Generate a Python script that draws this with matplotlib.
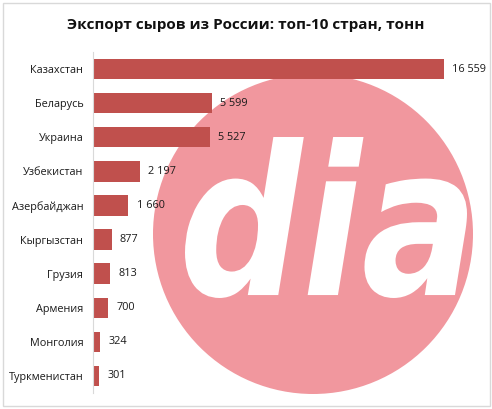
import matplotlib.pyplot as plt
import numpy as np
from matplotlib.patches import Circle, Rectangle, PathPatch
from matplotlib.textpath import TextPath
from matplotlib.font_manager import FontProperties
from matplotlib.transforms import Affine2D

plt.rcParams['font.family'] = ['Open Sans', 'DejaVu Sans']

# Data
countries = ['Казахстан', 'Беларусь', 'Украина', 'Узбекистан', 'Азербайджан',
             'Кыргызстан', 'Грузия', 'Армения', 'Монголия', 'Туркменистан']
tonnes = [16559, 5599, 5527, 2197, 1660, 877, 813, 700, 324, 301]
title = 'Экспорт сыров из России: топ-10 стран, тонн'

W, H = 492, 409
fig = plt.figure(figsize=(W / 100, H / 100), dpi=100)

# background: border + watermark logo (pixel coords)
bg = fig.add_axes([0, 0, 1, 1])
bg.set_xlim(0, W)
bg.set_ylim(H, 0)
bg.axis('off')
bg.add_patch(Rectangle((2.5, 2.5), 487, 403, fill=False, edgecolor='#D9D9D9', lw=1))
bg.add_patch(Circle((313, 234), 160, color='#F1979E', lw=0))

fp = FontProperties(family='DejaVu Sans', weight='bold', style='italic')
tp = TextPath((0, 0), 'dia', size=1, prop=fp)
ext = tp.get_extents()
x0, x1, y0, y1 = 185, 467, 137, 298
tr = (Affine2D().translate(-ext.x0, -ext.y0)
      .scale((x1 - x0) / ext.width, -(y1 - y0) / ext.height)
      .translate(x0, y1))
bg.add_patch(PathPatch(tr.transform_path(tp), facecolor='white', edgecolor='none'))

fig.text(246 / W, 1 - 25 / H, title, ha='center', va='center',
         fontsize=11, fontweight='bold', color='#111111')

# bar chart
left, right, top, bottom = 93, 470, 52, 393
ax = fig.add_axes([left / W, 1 - bottom / H, (right - left) / W, (bottom - top) / H])
ax.patch.set_alpha(0)
y = np.arange(len(countries))
ax.barh(y, tonnes, height=0.6, color='#C0504D')
ax.set_ylim(len(countries) - 0.5, -0.5)
ax.set_xlim(0, 16559 * (right - left) / 351)
ax.set_yticks(y)
ax.set_yticklabels(countries, fontsize=7.8, color='#1a1a1a')
ax.set_xticks([])
ax.tick_params(axis='y', length=0, pad=7)
for s in ['top', 'right', 'bottom']:
    ax.spines[s].set_visible(False)
ax.spines['left'].set_color('#D9D9D9')

for i, v in enumerate(tonnes):
    ax.annotate(f'{v:,}'.replace(',', ' '), (v, i), xytext=(6, 0),
                textcoords='offset points', va='center', ha='left',
                fontsize=7.8, color='#1a1a1a')

fig.savefig('out.png', dpi=100)
